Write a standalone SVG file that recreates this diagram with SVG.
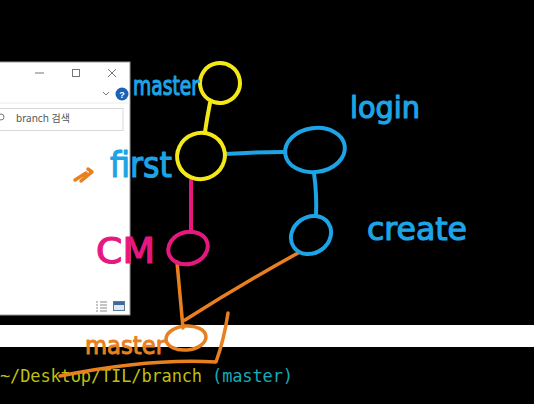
<svg xmlns="http://www.w3.org/2000/svg" width="534" height="404" viewBox="0 0 534 404">
<defs>
<style>
.hand{font-family:"DejaVu Sans",sans-serif;stroke-linejoin:round;stroke-linecap:round}
.y{stroke:#f4e816;fill:none;stroke-width:4;stroke-linecap:round}
.b{stroke:#1ca4e6;fill:none;stroke-width:4;stroke-linecap:round}
.p{stroke:#e8177f;fill:none;stroke-width:4;stroke-linecap:round}
.o{stroke:#e8801f;fill:none;stroke-width:3.5;stroke-linecap:round;stroke-linejoin:round}
.tb{fill:#1ca4e6;stroke:#1ca4e6;stroke-width:1.2}
.tp{fill:#e8177f;stroke:#e8177f;stroke-width:1.2}
.to{fill:#e8801f;stroke:#e8801f;stroke-width:1}
.ui{stroke:#777;fill:none;stroke-width:1}
</style>
</defs>
<rect x="0" y="0" width="534" height="404" fill="#000"/>
<g id="explorer">
<rect x="-2" y="62" width="132" height="253" fill="#fff" stroke="#9a9a9a" stroke-width="1"/>
<line x1="35" y1="73" x2="44" y2="73" class="ui"/>
<rect x="72.5" y="69.5" width="7" height="7" class="ui"/>
<path d="M108 69 L116 77 M116 69 L108 77" class="ui"/>
<path d="M103 92 L106 95 L109 92" class="ui"/>
<circle cx="122" cy="94" r="6.5" fill="#1a62b8"/>
<text x="122" y="98" font-family="Liberation Sans,sans-serif" font-size="9" font-weight="bold" fill="#fff" text-anchor="middle">?</text>
<line x1="0" y1="103" x2="130" y2="103" stroke="#ececec" stroke-width="1"/>
<rect x="-2" y="108.5" width="125" height="22" fill="#fff" stroke="#d8d8d8" stroke-width="1"/>
<circle cx="1" cy="117" r="3" class="ui"/>
<text x="16" y="122" font-family="Noto Sans,Noto Sans CJK KR,sans-serif" font-size="10" fill="#555">branch 검색</text>
<path d="M96 302 h2 M100 302 h7 M96 305 h2 M100 305 h7 M96 308 h2 M100 308 h7 M96 311 h2 M100 311 h7" stroke="#8a8a8a" stroke-width="1"/>
<rect x="113.5" y="301.5" width="11" height="9" fill="#dfe8f0" stroke="#5a7a9a" stroke-width="1"/>
<rect x="114" y="302" width="10" height="3" fill="#3b6a9a"/>
</g>
<rect x="0" y="325" width="534" height="22" fill="#fff"/>
<g id="terminal">
<text x="0" y="382" font-family="DejaVu Sans Mono,monospace" font-size="17" textLength="293" lengthAdjust="spacing" fill="#bfbf10">~/Desktop/TIL/branch <tspan fill="#14aabb">(master)</tspan></text>
</g>
<g id="connectors">
<path d="M210 103 Q207 118 205 132" class="y"/>
<path d="M225 154 Q255 152 283 152" class="b"/>
<path d="M314 173 Q317 195 316 216" class="b"/>
<path d="M191 180 L191 232" class="p"/>
<path d="M177 262 Q180 295 183 328" class="o"/>
<path d="M298 253 Q240 285 185 320" class="o"/>
<path d="M228 313 Q224 340 216 362 Q150 358 60 376" class="o"/>
<path d="M75 180 L86 173 M81 181 L92 172 L88 169" class="o" stroke-width="2.5"/>
</g>
<g id="node-master">
<ellipse cx="220" cy="83" rx="20" ry="20" transform="rotate(-10 220 83)" class="y"/>
<text x="133" y="95" font-size="26" textLength="66" lengthAdjust="spacingAndGlyphs" class="hand tb">master</text>
</g>
<g id="node-first">
<ellipse cx="201" cy="156" rx="24" ry="23" transform="rotate(-20 201 156)" class="y"/>
<text x="110" y="177" font-size="36" textLength="62" lengthAdjust="spacingAndGlyphs" class="hand tb">first</text>
</g>
<g id="node-login">
<ellipse cx="315" cy="150" rx="30" ry="22" transform="rotate(-8 315 150)" class="b"/>
<text x="350" y="118" font-size="30" textLength="70" lengthAdjust="spacingAndGlyphs" class="hand tb">login</text>
</g>
<g id="node-create">
<ellipse cx="311" cy="235" rx="21" ry="18" transform="rotate(-35 311 235)" class="b"/>
<text x="367" y="240" font-size="32" textLength="100" lengthAdjust="spacingAndGlyphs" class="hand tb">create</text>
</g>
<g id="node-cm">
<ellipse cx="188" cy="248" rx="20" ry="16" transform="rotate(-15 188 248)" class="p"/>
<text x="96" y="263" font-size="36" textLength="59" lengthAdjust="spacingAndGlyphs" class="hand tp">CM</text>
</g>
<g id="node-master2">
<ellipse cx="186" cy="338" rx="20" ry="12" transform="rotate(-5 186 338)" class="o"/>
<text x="85" y="354" font-size="24" textLength="80" lengthAdjust="spacingAndGlyphs" class="hand to">master</text>
</g>
</svg>
